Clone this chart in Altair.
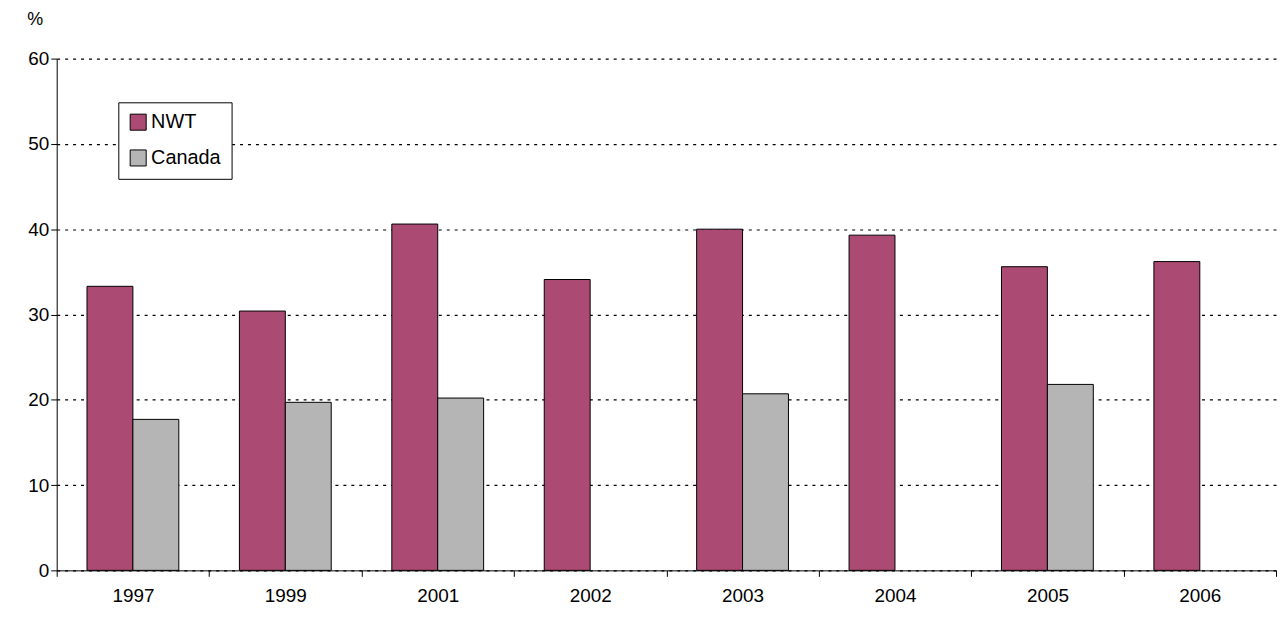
import altair as alt
import pandas as pd

years = ["1997", "1999", "2001", "2002", "2003", "2004", "2005", "2006"]
nwt = [33.3, 30.4, 40.6, 34.1, 40.0, 39.3, 35.6, 36.2]
canada = [17.7, 19.7, 20.2, None, 20.7, None, 21.8, None]

rows = []
for y, n, c in zip(years, nwt, canada):
    rows.append({"Year": y, "Series": "NWT", "Value": n})
    if c is not None:
        rows.append({"Year": y, "Series": "Canada", "Value": c})
df = pd.DataFrame(rows)

chart = alt.Chart(df).mark_bar(stroke="black", strokeWidth=1).encode(
    x=alt.X("Year:N", sort=years, title=None,
            scale=alt.Scale(paddingInner=0, paddingOuter=0),
            axis=alt.Axis(labelAngle=0, tickBand="extent", labelPadding=10)),
    xOffset=alt.XOffset("Series:N", sort=["NWT", "Canada"],
                        scale=alt.Scale(paddingInner=0, paddingOuter=0.66)),
    y=alt.Y("Value:Q", scale=alt.Scale(domain=[0, 60]),
            axis=alt.Axis(values=[0, 10, 20, 30, 40, 50, 60], grid=True,
                          gridColor="black", gridDash=[3, 5], gridWidth=1.2,
                          title="%", titleAngle=0, titleX=-22, titleY=-30)),
    color=alt.Color("Series:N", sort=["NWT", "Canada"],
                    scale=alt.Scale(domain=["NWT", "Canada"], range=["#ab4a73", "#b5b5b5"]),
                    legend=alt.Legend(title=None, orient="none", legendX=62, legendY=44,
                                      strokeColor="black", fillColor="white", padding=10,
                                      symbolType="square", symbolSize=260,
                                      symbolStrokeColor="black", symbolStrokeWidth=1,
                                      rowPadding=14, labelOffset=3, labelLimit=200)),
).properties(
    width=1227, height=515,
    autosize=alt.AutoSizeParams(type="none"),
    padding={"left": 49, "top": 49, "right": 2, "bottom": 40},
).configure_view(stroke=None).configure_axis(
    labelFont="Liberation Sans", titleFont="Liberation Sans",
    labelFontSize=19, titleFontSize=18, labelColor="black", titleColor="black",
    titleFontWeight="normal", domainColor="black", tickColor="black", tickSize=6,
).configure_legend(labelFont="Liberation Sans", labelFontSize=20, labelColor="black")

chart.save("out.html", embed_options={"renderer": "svg", "actions": False})
